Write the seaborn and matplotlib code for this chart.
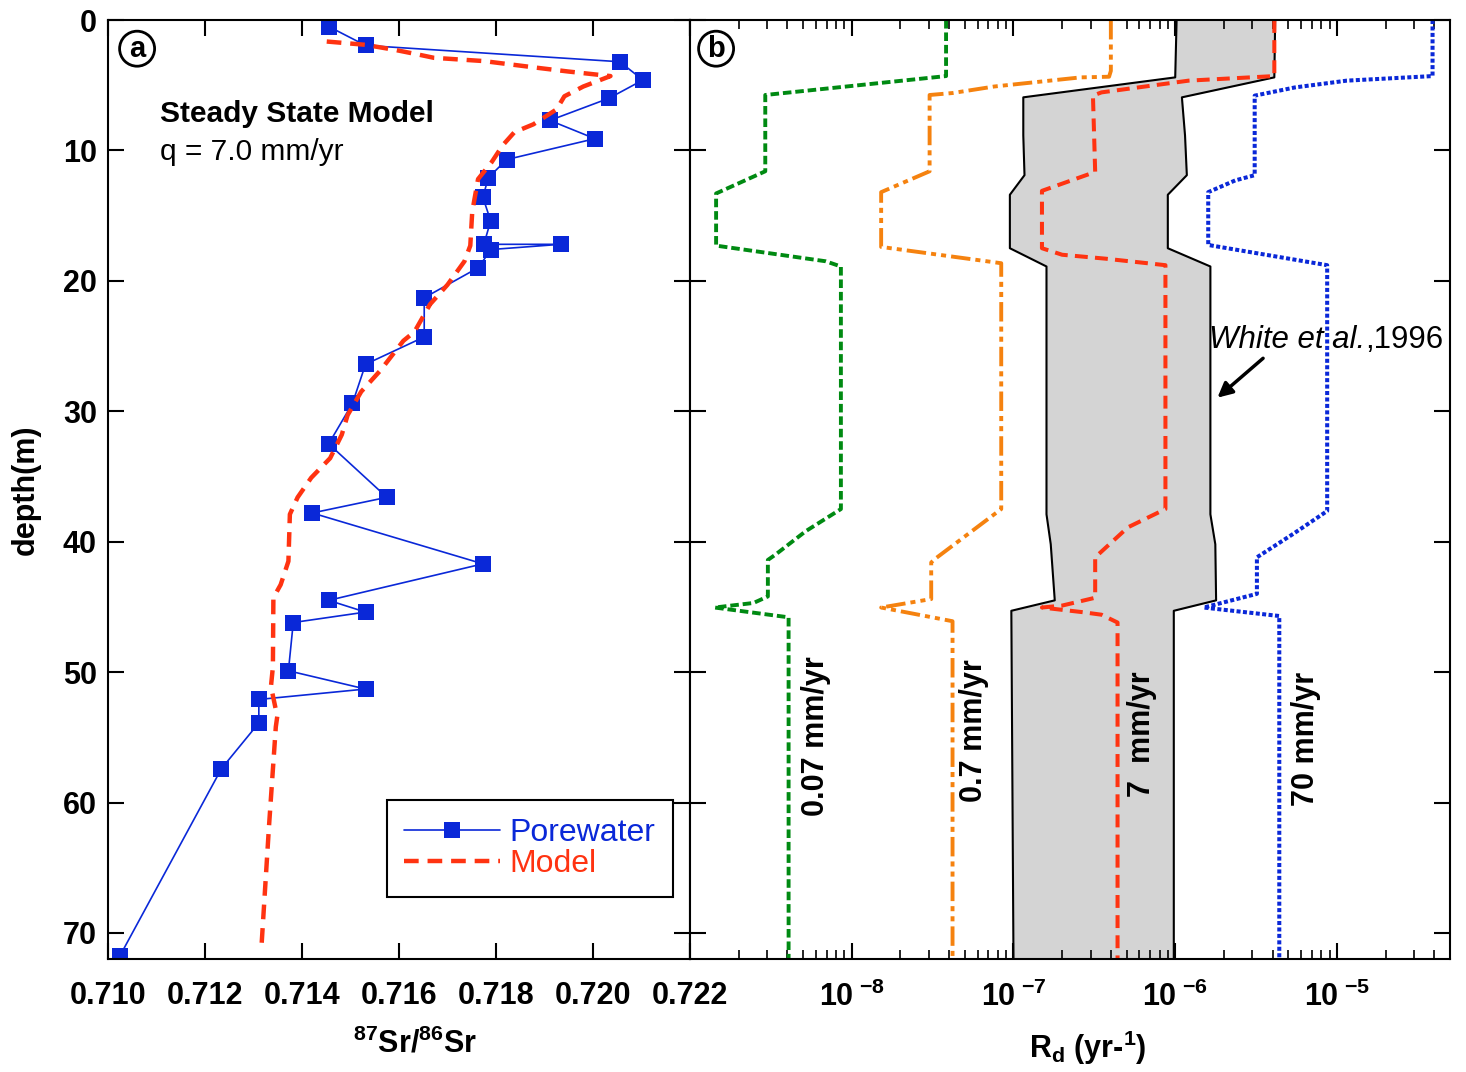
import numpy as np
import matplotlib
matplotlib.use("Agg")
import matplotlib.pyplot as plt
import seaborn as sns
from matplotlib.ticker import LogLocator, NullFormatter

sns.set_style("ticks")
plt.rcParams["font.family"] = ["Liberation Sans", "DejaVu Sans"]
plt.rcParams["mathtext.fontset"] = "custom"
plt.rcParams["mathtext.rm"] = "Liberation Sans"
plt.rcParams["mathtext.bf"] = "Liberation Sans:bold"
plt.rcParams["mathtext.it"] = "Liberation Sans:italic"
for k in ("text.color", "axes.labelcolor", "xtick.color", "ytick.color", "axes.edgecolor"):
    plt.rcParams[k] = "black"

# --- (a) porewater 87Sr/86Sr vs depth, in sampling order
pw_sr = [0.71455, 0.71531, 0.72055, 0.72103, 0.72033, 0.71911, 0.72004, 0.71822,
         0.71784, 0.71773, 0.71789, 0.71775, 0.71933, 0.71790, 0.71763, 0.71652,
         0.71652, 0.71531, 0.71504, 0.71455, 0.71575, 0.71421, 0.71773, 0.71455,
         0.71531, 0.71382, 0.71372, 0.71531, 0.71311, 0.71311, 0.71234, 0.71024]
pw_depth = [0.5, 1.95, 3.2, 4.6, 6.0, 7.7, 9.1, 10.7, 12.1, 13.6, 15.4, 17.2, 17.2,
            17.6, 19.0, 21.3, 24.3, 26.4, 29.4, 32.5, 36.6, 37.8, 41.7, 44.5, 45.4,
            46.2, 49.9, 51.3, 52.1, 53.9, 57.4, 71.8]

# steady state model
mdl_sr = [0.71451, 0.71530, 0.71593, 0.71640, 0.71672, 0.71775, 0.71893, 0.71949,
          0.72036, 0.71980, 0.71941, 0.71925, 0.71877, 0.71838, 0.71814, 0.71791,
          0.71763, 0.71751, 0.71747, 0.71735, 0.71700, 0.71664, 0.71632, 0.71609,
          0.71561, 0.71522, 0.71494, 0.71482, 0.71458, 0.71419, 0.71391, 0.71375,
          0.71372, 0.71356, 0.71341, 0.71340, 0.71336, 0.71349, 0.71346, 0.71332,
          0.71316]
mdl_depth = [1.65, 1.9, 2.3, 2.65, 2.9, 3.15, 3.7, 3.95, 4.3, 5.1, 5.85, 6.85, 8.0,
             8.6, 9.6, 10.9, 12.2, 14.7, 17.3, 18.5, 20.3, 21.8, 23.9, 24.6, 26.9,
             28.5, 30.3, 31.8, 33.6, 35.1, 36.6, 37.9, 41.5, 43.3, 44.3, 49.6, 51.1,
             53.4, 54.2, 61.8, 71.3]

# --- (b) dissolution rate Rd for four infiltration rates
g_rd = [3.83e-8, 3.83e-8, 2.92e-9, 2.92e-9, 1.45e-9, 1.45e-9, 6.9e-9, 8.57e-9,
        8.57e-9, 5.19e-9, 3.37e-9, 3.03e-9, 3.03e-9, 2.47e-9, 1.42e-9, 4.07e-9, 4.07e-9]
g_depth = [0, 4.3, 5.75, 11.6, 13.3, 17.3, 18.5, 18.9, 37.5, 39.2, 41.0, 41.4, 44.2,
           44.7, 45.05, 45.8, 72]

o_rd = [4.0e-7, 4.0e-7, 3.9e-7, 2.6e-7, 7.6e-8, 4.2e-8, 3.03e-8, 3.03e-8, 1.52e-8,
        1.52e-8, 8.4e-8, 8.4e-8, 3.25e-8, 3.1e-8, 3.1e-8, 1.52e-8, 4.2e-8, 4.2e-8]
o_depth = [0, 3.9, 4.35, 4.4, 5.1, 5.6, 5.75, 11.6, 13.2, 17.4, 18.65, 37.5, 41.35,
           41.6, 44.4, 45.05, 46.1, 72]

r_rd = [4.1e-6, 4.1e-6, 1.21e-6, 3.5e-7, 3.1e-7, 3.2e-7, 1.5e-7, 1.5e-7, 2.0e-7,
        3.7e-7, 8.7e-7, 8.7e-7, 5.1e-7, 3.2e-7, 3.2e-7, 2.0e-7, 1.5e-7, 2.65e-7,
        3.5e-7, 4.4e-7, 4.4e-7]
r_depth = [0, 4.3, 4.65, 5.55, 5.8, 11.65, 13.1, 17.5, 18.0, 18.3, 18.8, 37.5, 38.9,
           41.2, 44.3, 44.9, 45.05, 45.4, 45.6, 46.2, 72]

b_rd = [3.9e-5, 3.9e-5, 1.15e-5, 5.5e-6, 3.1e-6, 3.1e-6, 2.35e-6, 1.6e-6, 1.6e-6,
        8.7e-6, 8.7e-6, 5.37e-6, 3.2e-6, 3.2e-6, 1.5e-6, 4.4e-6, 4.4e-6]
b_depth = [0, 4.3, 4.65, 5.17, 5.8, 11.9, 12.3, 13.2, 17.25, 18.8, 37.65, 39.4,
           41.2, 44.0, 45.05, 45.7, 72]

# White et al. (1996) envelope
gw_depth = [0, 4.4, 5.93, 8.85, 11.9, 13.4, 17.5, 18.9, 37.9, 40.2, 44.5, 45.3, 72]
gw_lo = [1.02e-6, 1.0e-6, 1.15e-7, 1.15e-7, 1.17e-7, 9.5e-8, 9.5e-8, 1.6e-7, 1.6e-7,
         1.7e-7, 1.8e-7, 9.7e-8, 1.0e-7]
gw_hi = [4.15e-6, 4.1e-6, 1.1e-6, 1.15e-6, 1.18e-6, 9.0e-7, 9.0e-7, 1.65e-6, 1.65e-6,
         1.77e-6, 1.79e-6, 9.8e-7, 9.8e-7]

rate_labels = ["0.07 mm/yr", "0.7 mm/yr", "7  mm/yr", "70 mm/yr"]
rate_pos = [(6.0e-9, 54.9), (5.7e-8, 54.5), (6.2e-7, 54.8), (6.4e-6, 55.1)]

BLUE = "#0a28d8"
RED = "#ff3311"
GREEN = "#008a12"
ORANGE = "#f5820f"
FS = 22

W, H = 1466, 1072
fig = plt.figure(figsize=(W / 100, H / 100), dpi=100)
axa = fig.add_axes([108 / W, 1 - 959 / H, 582 / W, 939 / H])
axb = fig.add_axes([690 / W, 1 - 959 / H, 760 / W, 939 / H], sharey=axa)

# panel a
sns.lineplot(x=pw_sr, y=pw_depth, sort=False, estimator=None, ax=axa, color=BLUE,
             lw=1.2, marker="s", markersize=12, markeredgewidth=0, label="Porewater")
sns.lineplot(x=mdl_sr, y=mdl_depth, sort=False, estimator=None, ax=axa, color=RED,
             lw=3.2, linestyle=(0, (3.3, 2)), label="Model")

axa.set_xlim(0.710, 0.722)
axa.set_ylim(72, 0)
xt = np.round(np.arange(0.710, 0.7221, 0.002), 3)
axa.set_xticks(xt)
axa.set_xticklabels([f"{v:.3f}" for v in xt], fontweight="bold", fontsize=FS)
axa.set_yticks(np.arange(0, 71, 10))
axa.set_yticklabels([str(v) for v in range(0, 71, 10)], fontweight="bold", fontsize=FS)
axa.tick_params(direction="in", length=11.5, width=1.5, top=True, right=True,
                pad=16)
axa.tick_params(axis="y", pad=8)
axa.set_xlabel(r"$^{\mathbf{87}}$Sr/$^{\mathbf{86}}$Sr", fontweight="bold", fontsize=FS)
axa.xaxis.set_label_coords(0.527, -0.074)
axa.set_ylabel("depth(m)", fontweight="bold", fontsize=FS)
axa.yaxis.set_label_coords(-0.115, 0.5)

axa.text(0.71107, 7.2, "Steady State Model", fontweight="bold", fontsize=21.5,
         va="center")
axa.text(0.71107, 10.1, "q = 7.0 mm/yr", fontsize=21.5, va="center")
axa.text(0.7106, 2.2, "a", fontweight="bold", fontsize=21, ha="center", va="center",
         bbox=dict(boxstyle="circle,pad=0.12", fc="white", ec="black", lw=2))

leg = axa.legend(loc="lower right", bbox_to_anchor=(0.971, 0.066), fontsize=23,
                 frameon=True, fancybox=False, edgecolor="black", framealpha=1,
                 handlelength=3.0, labelcolor="linecolor", borderpad=0.55,
                 borderaxespad=0, handletextpad=0.3, labelspacing=0.05)
leg.get_frame().set_linewidth(1.5)

# panel b
axb.set_xscale("log")
axb.fill_betweenx(gw_depth, gw_lo, gw_hi, color="#d4d4d4", lw=0, zorder=0)
sns.lineplot(x=gw_lo, y=gw_depth, sort=False, estimator=None, ax=axb, color="black", lw=1.5)
sns.lineplot(x=gw_hi, y=gw_depth, sort=False, estimator=None, ax=axb, color="black", lw=1.5)

sns.lineplot(x=g_rd, y=g_depth, sort=False, estimator=None, ax=axb, color=GREEN,
             lw=2.8, linestyle=(0, (2.2, 1.0)))
sns.lineplot(x=o_rd, y=o_depth, sort=False, estimator=None, ax=axb, color=ORANGE,
             lw=2.8, linestyle=(0, (5, 1.3, 1.3, 1.3, 1.3, 1.3)))
sns.lineplot(x=r_rd, y=r_depth, sort=False, estimator=None, ax=axb, color=RED,
             lw=2.9, linestyle=(0, (3.2, 1.8)))
sns.lineplot(x=b_rd, y=b_depth, sort=False, estimator=None, ax=axb, color=BLUE,
             lw=2.9, linestyle=(0, (1.0, 0.6)))

axb.set_xlim(1e-9, 5e-5)
axb.set_xticks([1e-9, 1e-8, 1e-7, 1e-6, 1e-5])
axb.set_xticklabels(["", r"$\mathbf{10}^{\ \mathbf{-8}}$", r"$\mathbf{10}^{\ \mathbf{-7}}$",
                     r"$\mathbf{10}^{\ \mathbf{-6}}$", r"$\mathbf{10}^{\ \mathbf{-5}}$"],
                    fontsize=FS)
axb.xaxis.set_minor_locator(LogLocator(base=10, subs=np.arange(2, 10), numticks=20))
axb.xaxis.set_minor_formatter(NullFormatter())
axb.tick_params(which="major", direction="in", length=11.5, width=1.5, top=True,
                right=True, left=True, labelleft=False, pad=16)
axb.tick_params(which="minor", direction="in", length=6.5, width=1.2, top=True)
axb.set_xlabel(r"$\mathbf{R_d}$ (yr-$^{\mathbf{1}}$)", fontweight="bold", fontsize=FS)
axb.xaxis.set_label_coords(0.524, -0.074)
axb.set_ylabel("")

for s, (x, y) in zip(rate_labels, rate_pos):
    axb.text(x, y, s, rotation=90, ha="center", va="center", fontweight="bold",
             fontsize=22)

wt = axb.text(1.62e-6, 24.5, "White et al.", fontstyle="italic", fontsize=22.5,
              va="center")
axb.annotate(",1996", xy=(1, 0), xycoords=wt, va="bottom", ha="left", fontsize=22.5)
axb.annotate("", xy=(1.77e-6, 29.1), xytext=(3.6e-6, 25.8),
             arrowprops=dict(arrowstyle="-|>", color="black", lw=2.5, mutation_scale=22))
axb.text(1.45e-9, 2.2, "b", fontweight="bold", fontsize=21, ha="center", va="center",
         bbox=dict(boxstyle="circle,pad=0.12", fc="white", ec="black", lw=2))

for ax in (axa, axb):
    for sp in ax.spines.values():
        sp.set_linewidth(1.5)

fig.savefig("out.png", dpi=100)
